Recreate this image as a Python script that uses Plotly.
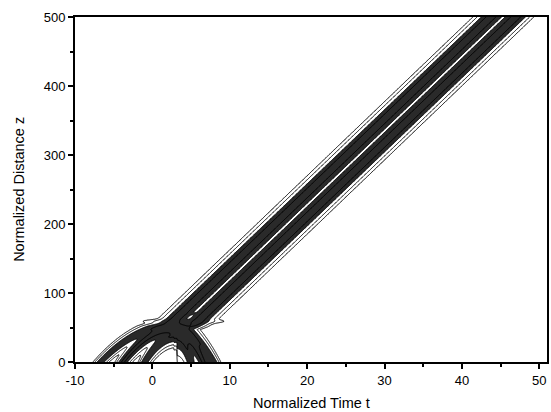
import numpy as np
import plotly.graph_objects as go

# ---- values ----
# centre of the soliton pair (t) read at several distances z
pair_z = [161, 378]
pair_t = [13.8, 34.0]
pair_separation = 3.2     # distance between the two soliton cores
pulse_width = 0.78

# initial compression region: nested arches (vertex t, vertex z, left/right half-width, width, amplitude)
arch_tv = [2.3, 2.8, 3.2]
arch_zv = [52.0, 48.0, 38.0]
arch_hl = [9.0, 6.6, 4.2]
arch_hr = [5.6, 3.8, 1.8]
arch_w = [0.4, 0.4, 0.35]
arch_a = [0.45, 0.7, 0.5]

# small oval features just above the compression point (t, z, sigma_t, sigma_z, amplitude)
blob_t = [4.0, 4.6]
blob_z = [59.0, 70.0]
blob_st = [3.4, 1.4]
blob_sz = [2.4, 1.6]
blob_a = [0.1, 0.07]

x_ticks = [-10, 0, 10, 20, 30, 40, 50]
x_labels = ['-10', '0', '10', '20', '30', '40', '50']
y_ticks = [0, 100, 200, 300, 400, 500]
y_labels = ['0', '100', '200', '300', '400', '500']

# ---- build the intensity field ----
t = np.arange(-10, 51.01, 0.07)
z = np.concatenate([np.arange(0, 80, 0.4), np.arange(80, 501, 2.0)])
T, Z = np.meshgrid(t, z)


def sech2(x):
    return 1.0 / np.cosh(np.clip(x, -50, 50)) ** 2


slope, intercept = np.polyfit(pair_z, pair_t, 1)
centre = intercept + slope * Z
wm = np.clip((Z - 47) / 10.0, 0, 1)
I = wm * (sech2((T - centre + pair_separation / 2) / pulse_width)
          + sech2((T - centre - pair_separation / 2) / pulse_width))

we = np.clip((60 - Z) / 8.0, 0, 1)
for tv, zv, hl, hr, w, a in zip(arch_tv, arch_zv, arch_hl, arch_hr, arch_w, arch_a):
    h = np.where(T < tv, hl, hr)
    f = ((T - tv) / h) ** 2 + Z / zv - 1
    s = np.minimum(h / (2 * w), zv / 2.5)
    I = I + we * a * sech2(f * s)

for bt, bz, st, sz, a in zip(blob_t, blob_z, blob_st, blob_sz, blob_a):
    I = I + a * np.exp(-((T - bt) / st) ** 2 - ((Z - bz) / sz) ** 2)

I = np.round(I, 3)

fig = go.Figure()
fig.add_trace(go.Contour(
    x=t, y=z, z=I,
    contours=dict(start=0.15, end=0.55, size=0.4, coloring='fill'),
    colorscale=[[0, 'white'], [0.12, 'white'], [0.12, '#2a2a2a'], [1, '#2a2a2a']],
    zmin=0, zmax=1, showscale=False,
    line=dict(color='black', width=1),
    hoverinfo='skip',
))
fig.add_trace(go.Contour(
    x=t, y=z, z=I,
    contours=dict(start=0.01, end=0.04, size=0.03, coloring='lines'),
    colorscale=[[0, 'black'], [1, 'black']],
    showscale=False,
    line=dict(width=1),
    hoverinfo='skip',
))

font_name = 'Liberation Sans, Arial, sans-serif'
tick_font = dict(family=font_name, size=13, color='black')
title_font = dict(family=font_name, size=14.5, color='black')
fig.update_layout(
    width=551, height=412,
    margin=dict(l=75, r=2, t=17, b=50),
    paper_bgcolor='white', plot_bgcolor='white',
    showlegend=False,
    font=tick_font,
    xaxis=dict(range=[-10, 51], tickvals=x_ticks, ticktext=x_labels, ticks='outside', ticklen=5,
               tickwidth=1.5, tickcolor='black', showline=True, linecolor='black',
               linewidth=2, mirror=True, showgrid=False, zeroline=False,
               minor=dict(dtick=5, ticks='outside', ticklen=3, tickcolor='black', showgrid=False),
               tickfont=tick_font),
    yaxis=dict(range=[0, 500], tickvals=y_ticks, ticktext=y_labels, ticks='outside', ticklen=5,
               tickwidth=1.5, tickcolor='black', showline=True, linecolor='black',
               linewidth=2, mirror=True, showgrid=False, zeroline=False,
               minor=dict(dtick=50, ticks='outside', ticklen=3, tickcolor='black', showgrid=False),
               tickfont=tick_font),
    annotations=[
        dict(text='Normalized Time t', x=0.5, y=-0.119, xref='paper', yref='paper',
             xanchor='center', yanchor='middle', showarrow=False, font=title_font),
        dict(text='Normalized Distance z', x=-0.12, y=0.5, xref='paper', yref='paper',
             xanchor='center', yanchor='middle', showarrow=False, textangle=-90,
             font=title_font),
    ],
)

fig.write_html("out.html")
